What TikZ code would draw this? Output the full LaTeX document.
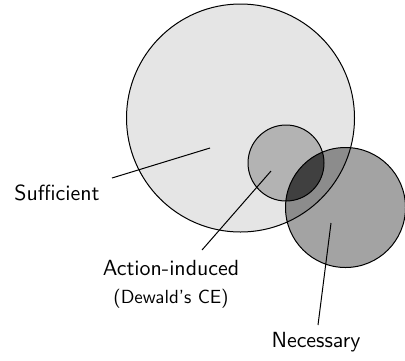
\documentclass[tikz,border=0pt]{standalone}
\begin{document}
\begin{tikzpicture}[x=0.5pt,y=-0.5pt,
  ring/.style={draw=black,line width=0.5pt},
  lbl/.style={font=\sffamily\fontsize{10.95}{13}\selectfont,inner sep=0pt},
  lblsmall/.style={font=\sffamily\fontsize{9.5}{11}\selectfont,inner sep=0pt},
  lead/.style={draw=black,line width=0.5pt}]
\definecolor{cbig}{HTML}{E5E5E5}
\definecolor{csmall}{HTML}{B3B3B3}
\definecolor{cnec}{HTML}{A3A3A3}
\definecolor{cbn}{HTML}{8C8C8C}
\definecolor{call}{HTML}{404040}
\useasboundingbox (0,0) rectangle (405,360);
% fills
\fill[cbig] (240.5,118) circle [radius=57pt];
\fill[csmall] (286,163) circle [radius=19pt];
\fill[cnec] (345.5,207.5) circle [radius=30pt];
\begin{scope}
  \clip (240.5,118) circle [radius=57pt];
  \fill[cbn] (345.5,207.5) circle [radius=30pt];
\end{scope}
\begin{scope}
  \clip (286,163) circle [radius=19pt];
  \fill[call] (345.5,207.5) circle [radius=30pt];
\end{scope}
% borders
\draw[ring] (240.5,118) circle [radius=57pt];
\draw[ring] (286,163) circle [radius=19pt];
\draw[ring] (345.5,207.5) circle [radius=30pt];
% labels
\node[lbl] (suf) at (57,193) {Sufficient};
\node[lbl] (act) at (171,268) {Action-induced};
\node[lblsmall] (dew) at (171,299) {(Dewald's CE)};
\node[lbl] (nec) at (316,342) {Necessary};
% leader ends
\coordinate (sufA) at (112,178);
\coordinate (sufB) at (210,148);
\coordinate (actA) at (202,250);
\coordinate (actB) at (271,171);
\coordinate (necA) at (318,325);
\coordinate (necB) at (331,223);
\draw[lead] (sufA) -- (sufB);
\draw[lead] (actA) -- (actB);
\draw[lead] (necA) -- (necB);
\end{tikzpicture}
\end{document}
